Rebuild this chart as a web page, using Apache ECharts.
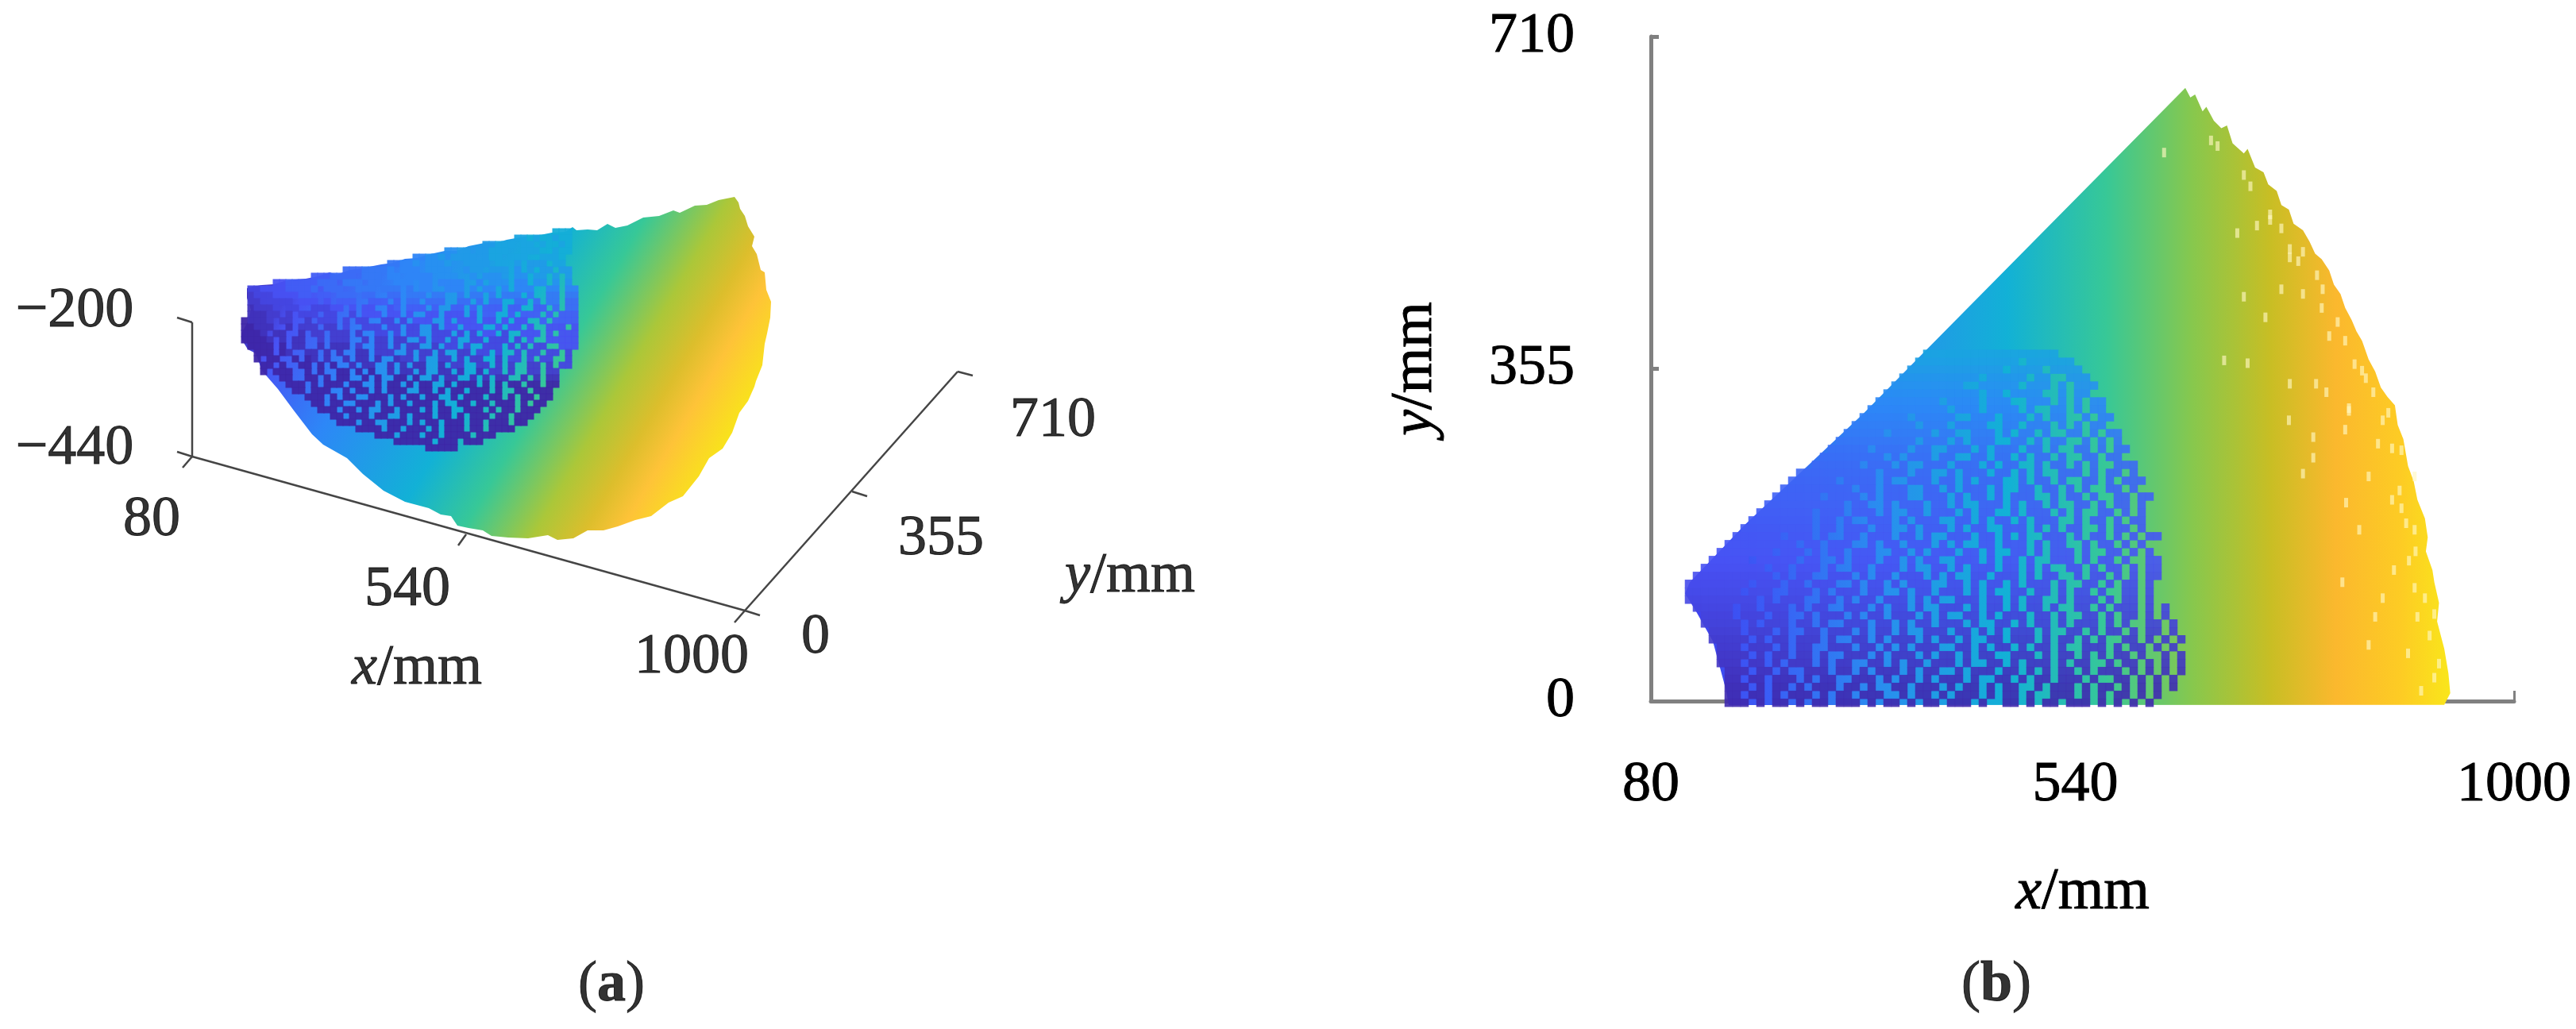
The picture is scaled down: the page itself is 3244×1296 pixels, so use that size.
<!DOCTYPE html>
<html>
<head>
<meta charset="utf-8">
<style>
  html, body { margin: 0; padding: 0; background: #fff; }
  #main { width: 3244px; height: 1296px; }
</style>
<script src="https://cdn.jsdelivr.net/npm/echarts@6/dist/echarts.min.js"></script>
</head>
<body>
<div id="main"></div>
<script>
// tick labels of panel (b)
var xTicksB = [80, 540, 1000];
var yTicksB = [0, 355, 710];

// colour ramp of the point cloud
var parula = ['#3e26a8', '#4852f4', '#2d87f7', '#12b1d6', '#37c897', '#abc739', '#fec338', '#f9fb15'];

// panel (a): outer surface outline, projected picture units
var outlineA = [
  [311,363],[318,361],[330,359],[345,358],[358,354],[372,352],[385,351],[400,348],[415,343],[424,346],[440,340],
  [455,338],[470,335],[480,333],[495,331],[510,326],[525,325],[542,320],[560,316],[575,316],[590,310],[610,306],
  [625,306],[638,302],[660,298],[680,296],[695,293],[712,292],[721,286],[726,290],[740,289],[752,290],[765,282],
  [775,287],[790,284],[810,274],[830,272],[848,265],[856,268],[875,259],[890,258],[905,252],[925,248],[930,255],
  [932,263],[938,272],[942,285],[950,298],[947,310],[953,320],[958,340],[963,343],[965,365],[971,380],[970,400],
  [966,420],[963,433],[960,460],[952,480],[950,487],[942,505],[931,520],[922,545],[910,565],[893,577],[880,600],
  [860,625],[842,633],[820,650],[800,655],[778,663],[760,668],[740,668],[722,678],[702,680],[690,674],[665,678],
  [640,677],[619,675],[608,668],[590,665],[576,662],[568,650],[555,648],[540,640],[510,632],[483,618],[457,597],
  [437,577],[407,560],[393,547],[370,517],[350,490],[330,467],[322,445],[312,440],[304,427],[304,420],[312,405],
  [316,390],[311,375]
];
// colour along the x direction of the projected view
var rampA = [
  [0, '#3e26a8'], [0.094, '#4852f4'], [0.25, '#2d87f7'], [0.46, '#12b1d6'], [0.58, '#37c897'],
  [0.70, '#abc739'], [0.78, '#dcbe2c'], [0.84, '#fec338'], [0.92, '#f9e01e'], [1, '#f9fb15']
];
var rampLineA = [[394, 229], [967, 562]];

// panel (a): inner surface seen from above, hex digit = colour level, '.' = gap to the surface behind
var innerA = [
  '                                                 ccc',
  '                                           bbcbc.bcc',
  '                                      aabbb.bb.bccbc',
  '                                99aa.aabbb..bbbc.bcc',
  '                           8899a.aaaa.abb.bbb..bbbc',
  '                       77889.999a..aaaa.bb.a.aaa.bb',
  '                66677778.888.9999..9aa.aaa.9.a.aa.aa',
  '           5556666.777.88.8888.999..9.999a.99.aa.a.a',
  '     4455555666.777.77..888.88.8888..8.999.88.99.9.9',
  ' 33444455556.666..777.777.7.88..888.8.88.8.888..88.88',
  ' 2333444455.55.666.66..66.777.77..7.77.7.777.7..77.77',
  ' 2233333.444.4.555..555.5.66.666..66.6.66..66.6.77.66',
  ' 12223.33..33344.4.44..45.555.5..55.5.555.55..55.6.66',
  ' 11122.2.333.33..3.444.44.4..44.444.4.55..5.555.5.555',
  '01112.22..2.333.3.33..33.3.444..4.444.44.4.44..5.5555',
  '00111..1.222.22.3..333.33.33..3.44.444..4.44.4..444.4',
  '0001.11..1.22.222.2..33.3.33..333.3.3.44.3..444.4.444',
  '00001.1.11..2.222..2.22.22..3.33.3..33.333.3.4..44444',
  ' 0000.0.11..1.111.2..22.2.22..2.33.3..333.3.3.33..444',
  '  000.01..11.1.1..11.222..2.22.2..22.33.3..3.33.33.3',
  '  0.00..0.01.1..1.11.1..122.2..22.2.22..2.33.3.33..3',
  '   00.0..00.0.0..1.11..1.1.11..1.22..22.2.2..22.2.33',
  '   0.000..0.0..00.0.0..1.11.1..11.1..1.22.2..22.22',
  '      00..00.0.00..0.0..00.0..1.11..1.1.11..1.1.11',
  '       000.0.000.00..0.00.0.00..0.000.0.0.00.00.00',
  '        00.000..0.00.0.000..00.0.00.000.0..00.000',
  '          000.0.00..000.0.00.00..0.000.00.0.00.00',
  '           00.00..000.0.00.000.0..00.00.000.0.00',
  '            000.00.0..00.000.0.00..000.0.00.000',
  '              00.000.00..0.000.00.0.000.00.000',
  '               000.00..000.0.00.000.00.000.00',
  '                  0000.00.000.0.000.00.0000',
  '                     000.000.00.0000.000',
  '                        000000.000.000',
  '                             00000'
];

// panel (a): box lines [x1, y1, x2, y2], projected picture units
var boxLinesA = [
  [242,406,242,575],[223,400,242,406],[223,569,242,575],
  [242,575,938,769],[242,575,230,589],[587,673,577,687],[938,769,957,775],
  [938,769,1206,468],[938,769,925,784],[1073,619,1092,625],[1206,468,1225,473]
];

// panel (a) and captions: text items [x, y, text]
var textItems = [
  [94,392,'\u2212200'],[94,565,'\u2212440'],[191,655,'80'],[513,743,'540'],[871,828,'1000'],
  [525,842,'{i|x}/mm'],[1027,803,'0'],[1185,679,'355'],[1326,530,'710'],[1423,726,'{i|y}/mm'],
  [770,1241,'({b|a})'],[2514,1241,'({b|b})']
];

// panel (b): outline of the point cloud in mm
var outlineB = [
  [649.6,655],[306.8,307.6],[180.7,189],[121.5,127],[116.4,115],[128,96],[146,64],[159.6,13.6],[163,-4.2],
  [925.6,-4],[932,8.5],[930,30],[925.6,56],[918,85],[920,105],[915,127],[913,140],[906,160],[908,175],[905,195],
  [897,215],[893,235],[887,251],[882,280],[876,295],[873,316],[865,325],[858,335],[852,352],[845,365],[838,385],
  [832,395],[827,407],[820,420],[815,435],[808,445],[803,460],[795,472],[788,478],[782,491],[775,503],[765,510],
  [760,525],[752,530],[747,545],[738,552],[733,565],[724,570],[716,590],[712,585],[700,596],[694,615],[688,612],
  [680,620],[672,635],[668,630],[660,648],[655,645]
];
// colour against x in mm
var rampXB = [121.5, 202, 320, 460, 565, 656, 740, 810, 880, 936];
var rampColorB = ['#4040ee', '#3a5cf6', '#2a8cf0', '#12b1d6', '#37c897', '#86c84e', '#c8be24', '#fbb82e', '#fdcc24', '#f9e81a'];

// panel (b): inner surface, '#' = point, '.' = gap; levelsB = colour level of each row
var innerB = [
  '                              #################',
  '                             #############.######',
  '                            ############.####.####',
  '                           ##########.#####.##..###',
  '                          #########..#####.###.#.###',
  '                         ############.##.####..#.##',
  '                        ########.####.###..###.#.#.##',
  '                       ##########.###.####.#..##.#.##',
  '                      ######.#####..###.###.#.##..#.##',
  '                     ########.###.####..##.###.#.#.##',
  '                    #####.#####.##..###.#.##.#..##.#.##',
  '                   ##########.###.#.###..##.#.##..#.#.#',
  '                  #####.####.##..###.#.###.##.#..##.#.##',
  '                 ########.#.###.##..##.##.#.##.#..##.##',
  '                ######.###.#..###.###.#.##..#.##.#.#..###',
  '              ##########.###.##..#.###.##.#.#..###.#.##.#',
  '             ######.####.#..###.##.#.###..#.##.#..##.#.###',
  '            #########.##.###..##.#.###.#..##.##.#.#..##.#',
  '           ######.####.#.###..###.#.##.#.###..#.##.#..##.##',
  '          ##########.##..#.###.##.#..###.#.##.#..##.#.##.#',
  '         #######.###.###.#..##.###.#.##..#.###.#.#..##.#.#',
  '        ########.##.#..###.#.###..##.#.##.#.###..#.##.#.##',
  '       #########.##.###.##..#.###.#.##..###.#.#.##..#.##.#',
  '      ######.###.#..##.###.##.#..###.##.#.#..###.#.##.#.#.##',
  '     #########.##.###..#.##.###.#.#..##.###.#.##..#.##.#.#.',
  '    #######.###.#.##.###..##.#.###.##.#..##.#.###.#..##.#.#',
  '   #####.#####.##..#.###.##.#.##..###.#.##.#..###.#.##.#..##',
  '  ########.##.###.#..##.###.#..##.#.###.##.#.#..##.#.##.#.##',
  ' ##########.#.##..###.#.##.###.#.#..##.###.#.##..#.##.#.#.##',
  '########.###.##.###..#.##.#.###..##.#.##.#.###.#..##.#.##.#.',
  '#######.###..###.#.###.##..#.##.###.#.#..##.##.#.##.#..##.#.',
  '#########.#.###..##.#.##.###.#.#..###.##.#.##..#.###.#.##.#.',
  ' #####.##.###.#.##..###.#.##.#..###.#.##.#.##.#..##.#.###.#.#',
  '  ####.###.##..#.###.#.##.###.#.#..##.#.###.##.#..##.#.##.#.#',
  '  #####.#.###.##.#..###.##.#.##.###.#..##.#.##.#.###.#.#..##.#',
  '   ####.###.#..##.###.#.##.#..###.##.#.#.###.#..##.#.##.#.##.#',
  '   #####.#.##.###.#..##.#.###.#.##.#..##.###.#.##.#.#..##.#.#.#',
  '    ###.###.#.##..###.##.#.#.###..##.#.##.#.##.#..###.#.##.#.#.',
  '    ####.#.##.##.#..###.#.###.#.##.#.##..###.#.##.#.#.##.#..#.#',
  '    ###.##.#.###.#.##..##.#.##.###.#..##.#.###.#.##..#.##.#.#.#',
  '     ###.##.#..###.##.#.###.#.##..#.###.##.#.#.##.#.###.#.#.#.#',
  '     ##.##.###.#.##..###.#.##.#.###.#..##.#.##.###.#..##.#.#.#',
  '     ###.#.##.#.###.##.#..##.###.#.##.#.##..#.###.#.##.#.#.#.#',
  '     ##.##.#.###.#.##.###..#.##.#.###.#.##.#..###.#.#.##.#.#',
  '     ###.#.##.#.##.###.#.##.#.##.###.#..##.#.##.###.#.#.#.#.'
];
var levelsB = [
  .38,.37,.35,.335,.32,.305,.29,.28,.27,.26,.25,.24,.225,.215,
  .205,.2,.195,.19,.185,.18,.175,.17,.165,.16,.155,.15,.145,.14,.13,.125,.12,.11,.105,.095,.09,.08,.07,.065,.055,.05,.04,.03,.02,.015,.01
];
// panel (b): pale gaps near the outer rim, mm
var gapsB = [
  [627,586],[677,599],[684,593],[705,500],[761,483],[761,474],[719,550],[712,562],[740,514],[726,508],
  [691,364],[716,361],[761,339],[789,339],[824,313],[838,353],[803,390],[796,440],[775,435],[712,432],
  [824,310],[866,308],[786,282],[786,260],[775,243],[880,268],[894,240],[821,212],[835,183],[880,206],
  [894,183],[817,127],[852,90],[894,121],[915,93],[887,51],[901,11],
  [740,520],[752,505],[770,470],[790,455],[775,480],[795,420],[812,405],[820,385],[830,360],[850,330],
  [842,345],[860,300],[870,270],[855,275],[878,225],[885,190],[870,215],[895,160],[888,150],[905,110],
  [897,90],[910,70],[920,40],[915,25],[860,110],[872,140],[845,240],[820,290],[800,330],[845,60],
  [760,300],[735,410],[752,440]
];

var fontName = 'Liberation Serif';
var textBase = { color: '#000', fontFamily: fontName, textBorderColor: '#000', textBorderWidth: 1 };
var chart = echarts.init(document.getElementById('main'));

function textStyle(size, extra) {
  return Object.assign({}, textBase, { fontSize: size }, extra || {});
}

function cellsFromA() {
  var out = [];
  innerA.forEach(function (row, r) {
    for (var c = 0; c < row.length; c++) {
      var ch = row.charAt(c);
      if (ch === ' ' || ch === '.') continue;
      out.push([308 + 8 * c, 292 + 8 * r, parseInt(ch, 16) * 0.035]);
    }
  });
  return out;
}

function cellsFromB() {
  var out = [];
  innerB.forEach(function (row, r) {
    for (var c = 0; c < row.length; c++) {
      if (row.charAt(c) !== '#') continue;
      out.push([120.6 + 8.464 * c, 371 - 8.473 * r, levelsB[r]]);
    }
  });
  return out;
}

function polygonA(params, api) {
  var a = api.coord(rampLineA[0]), b = api.coord(rampLineA[1]);
  var stops = rampA.map(function (s) { return { offset: s[0], color: s[1] }; });
  return {
    type: 'polygon',
    shape: { points: outlineA.map(function (p) { return api.coord(p); }) },
    style: { fill: new echarts.graphic.LinearGradient(a[0], a[1], b[0], b[1], stops, true) }
  };
}

function polygonB(params, api) {
  var first = rampXB[0], last = rampXB[rampXB.length - 1];
  var a = api.coord([first, 0]), b = api.coord([last, 0]);
  var stops = rampXB.map(function (x, i) {
    return { offset: (x - first) / (last - first), color: rampColorB[i] };
  });
  return {
    type: 'polygon',
    shape: { points: outlineB.map(function (p) { return api.coord(p); }) },
    style: { fill: new echarts.graphic.LinearGradient(a[0], a[1], b[0], b[1], stops, true) }
  };
}

chart.setOption({
  animation: false,
  backgroundColor: '#fff',
  grid: [
    { left: 0, top: 0, width: 3244, height: 1296, show: false },
    { left: 2079, top: 46, width: 1087, height: 837, show: false }
  ],
  xAxis: [
    { gridIndex: 0, type: 'value', min: 0, max: 3244, show: false },
    {
      gridIndex: 1, type: 'value', min: 80, max: 1000,
      name: '{i|x}/mm', nameLocation: 'middle', nameGap: 205,
      nameTextStyle: textStyle(74, { rich: { i: textStyle(74, { fontStyle: 'italic' }) } }),
      axisLine: { onZero: false, lineStyle: { color: '#808080', width: 5 } },
      axisTick: { inside: true, length: 13, customValues: xTicksB, lineStyle: { color: '#808080', width: 3 } },
      axisLabel: textStyle(72, {
        customValues: xTicksB, margin: 70,
        formatter: function (v) { return v === 540 ? '{s|540}' : String(v); },
        rich: { s: textStyle(72, { padding: [0, 18, 0, 0] }) }
      }),
      splitLine: { show: false }
    }
  ],
  yAxis: [
    { gridIndex: 0, type: 'value', min: 0, max: 1296, inverse: true, show: false },
    {
      gridIndex: 1, type: 'value', min: 0, max: 710,
      name: '{i|y}/mm', nameLocation: 'middle', nameGap: 259,
      nameTextStyle: textStyle(74, { rich: { i: textStyle(74, { fontStyle: 'italic' }) } }),
      axisLine: { onZero: false, lineStyle: { color: '#808080', width: 5 } },
      axisTick: { inside: true, length: 10, customValues: yTicksB, lineStyle: { color: '#808080', width: 5 } },
      axisLabel: textStyle(72, { customValues: yTicksB, margin: 96 }),
      splitLine: { show: false }
    }
  ],
  visualMap: {
    show: false, type: 'continuous', seriesIndex: [2, 4], dimension: 2, min: 0, max: 1,
    inRange: { color: parula }
  },
  series: [
    {
      type: 'custom', xAxisIndex: 0, yAxisIndex: 0, silent: true,
      data: boxLinesA,
      renderItem: function (params, api) {
        var a = api.coord([api.value(0), api.value(1)]), b = api.coord([api.value(2), api.value(3)]);
        return {
          type: 'line',
          shape: { x1: a[0], y1: a[1], x2: b[0], y2: b[1] },
          style: { stroke: '#454545', lineWidth: 2.5 }
        };
      }
    },
    { type: 'custom', xAxisIndex: 0, yAxisIndex: 0, silent: true, data: [[0, 0]], renderItem: polygonA },
    {
      type: 'scatter', xAxisIndex: 0, yAxisIndex: 0, silent: true, clip: false,
      symbol: 'rect', symbolSize: 9, itemStyle: { opacity: 0.95 }, data: cellsFromA()
    },
    { type: 'custom', xAxisIndex: 1, yAxisIndex: 1, silent: true, clip: false, data: [[80, 0]], renderItem: polygonB },
    {
      type: 'scatter', xAxisIndex: 1, yAxisIndex: 1, silent: true, clip: false,
      symbol: 'rect', symbolSize: [10.5, 10.5], itemStyle: { opacity: 0.9 }, data: cellsFromB()
    },
    {
      type: 'scatter', xAxisIndex: 1, yAxisIndex: 1, silent: true, clip: false,
      symbol: 'rect', symbolSize: [5, 12], itemStyle: { color: '#fff8c0', opacity: 0.65 }, data: gapsB
    },
    {
      type: 'scatter', xAxisIndex: 0, yAxisIndex: 0, silent: true, clip: false,
      symbolSize: 0, data: textItems,
      label: textStyle(72, {
        show: true, position: 'inside',
        formatter: function (p) { return p.data[2]; },
        rich: {
          i: textStyle(72, { fontStyle: 'italic' }),
          b: textStyle(72, { fontWeight: 'bold' })
        }
      })
    }
  ]
});
</script>
</body>
</html>
